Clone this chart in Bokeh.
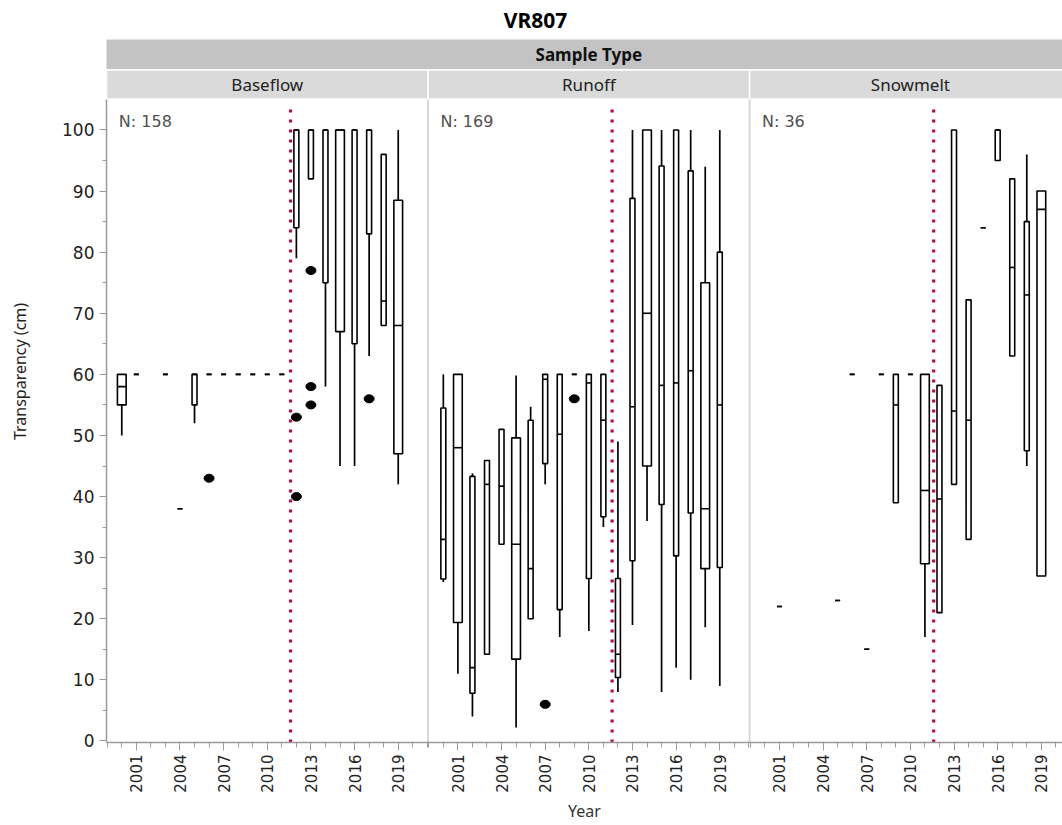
import math
from bokeh.plotting import figure
from bokeh.models import FixedTicker, ColumnDataSource, Range1d
from bokeh.core.properties import value
from bokeh.embed import file_html
from bokeh.resources import INLINE

# ---------------- data ----------------
TITLE = "VR807"
GROUP_TITLE = "Sample Type"
PANELS = ["Baseflow", "Runoff", "Snowmelt"]
N_COUNTS = [158, 169, 36]
Y_LABEL = "Transparency (cm)"
X_LABEL = "Year"
TICK_YEARS = [2001, 2004, 2007, 2010, 2013, 2016, 2019]
Y_TICKS = [0, 10, 20, 30, 40, 50, 60, 70, 80, 90, 100]
CHANGE_YEAR = 2011.6

baseflow_years = [2000, 2001, 2003, 2004, 2005, 2006, 2007, 2008, 2009, 2010, 2011,
                  2012, 2013, 2014, 2015, 2016, 2017, 2018, 2019]
baseflow_lo = [50, 60, 60, 38, 52, 60, 60, 60, 60, 60, 60, 79, 92, 58, 45, 45, 63, 68, 42]
baseflow_q1 = [55, 60, 60, 38, 55, 60, 60, 60, 60, 60, 60, 84, 92, 75, 67, 65, 83, 68, 47]
baseflow_med = [58, 60, 60, 38, 60, 60, 60, 60, 60, 60, 60, 100, 100, 100, 100, 100, 100, 72, 68]
baseflow_q3 = [60, 60, 60, 38, 60, 60, 60, 60, 60, 60, 60, 100, 100, 100, 100, 100, 100, 96, 88.5]
baseflow_hi = [60, 60, 60, 38, 60, 60, 60, 60, 60, 60, 60, 100, 100, 100, 100, 100, 100, 96, 100]
baseflow_out_years = [2006, 2012, 2012, 2013, 2013, 2013, 2017]
baseflow_out_vals = [43, 53, 40, 77, 58, 55, 56]

runoff_years = [2000, 2001, 2002, 2003, 2004, 2005, 2006, 2007, 2008, 2009, 2010, 2011,
                2012, 2013, 2014, 2015, 2016, 2017, 2018, 2019]
runoff_lo = [26, 11, 4, 14.2, 32.2, 2.2, 20, 42, 17, 60, 18, 35, 8, 19, 36, 8, 12, 10, 18.6, 9]
runoff_q1 = [26.5, 19.4, 7.8, 14.2, 32.2, 13.4, 20, 45.4, 21.5, 60, 26.6, 36.7, 10.4, 29.5, 45, 38.7, 30.3, 37.3, 28.2, 28.4]
runoff_med = [33, 48, 12, 42, 41.7, 32.2, 28.2, 59.2, 50.2, 60, 58.6, 52.5, 14.2, 54.7, 70, 58.2, 58.6, 60.6, 38, 55]
runoff_q3 = [54.5, 60, 43.3, 45.9, 51, 49.6, 52.5, 60, 60, 60, 60, 60, 26.6, 88.8, 100, 94.1, 100, 93.3, 75, 80]
runoff_hi = [60, 60, 43.8, 45.9, 51, 59.8, 54.7, 60, 60, 60, 60, 60, 49, 100, 100, 100, 100, 100, 94, 100]
runoff_out_years = [2007, 2009]
runoff_out_vals = [6, 56]

snowmelt_years = [2001, 2005, 2006, 2007, 2008, 2009, 2010, 2011, 2012, 2013, 2014,
                  2015, 2016, 2017, 2018, 2019]
snowmelt_lo = [22, 23, 60, 15, 60, 39, 60, 17, 21, 42, 33, 84, 95, 63, 45, 27]
snowmelt_q1 = [22, 23, 60, 15, 60, 39, 60, 29, 21, 42, 33, 84, 95, 63, 47.5, 27]
snowmelt_med = [22, 23, 60, 15, 60, 55, 60, 41, 39.6, 54, 52.5, 84, 100, 77.5, 73, 87]
snowmelt_q3 = [22, 23, 60, 15, 60, 60, 60, 60, 58.2, 100, 72.2, 84, 100, 92, 85, 90]
snowmelt_hi = [22, 23, 60, 15, 60, 60, 60, 60, 58.2, 100, 72.2, 84, 100, 92, 96, 90]
snowmelt_out_years = []
snowmelt_out_vals = []

# ---------------- layout / style ----------------
FIRST_YEAR = 1999
PANEL_SPAN = 22.1          # years per facet incl. gap
PX_X = 14.55               # px per year
PX_Y = 6.11                # px per unit of transparency
FRAME_LEFT = 106
FRAME_W = 956
FRAME_H = 742
X0 = -0.05
X1 = X0 + FRAME_W / PX_X
Y0 = -0.25
Y1 = Y0 + FRAME_H / PX_Y

WIDE = [{2000, 2015, 2019}, {2001, 2005, 2014, 2018}, {2011, 2019}]
HALF_WIDE = 0.3
HALF_NARROW = 0.17

FONT = "Noto Sans"
NUM_FONT = "DejaVu Sans"
RED = "#B3123C"
AXIS_GRAY = "#9A9A9A"


def vx(page_x):
    return X0 + (page_x - FRAME_LEFT) / PX_X


def vy(page_y):
    return Y1 - page_y / PX_Y


p = figure(width=1062, height=825, frame_width=FRAME_W, frame_height=FRAME_H,
           x_range=Range1d(X0, X1), y_range=Range1d(Y0, Y1),
           output_backend="svg", toolbar_location=None,
           min_border_left=FRAME_LEFT, min_border_right=0, min_border_top=0,
           min_border_bottom=825 - FRAME_H)
p.outline_line_color = None
p.grid.visible = False
p.background_fill_color = "white"
p.border_fill_color = "white"

# ---- header bands ----
p.quad(left=[vx(104)], right=[X1 + 1], bottom=[vy(68.5)], top=[vy(39)],
       fill_color="#C3C3C3", line_color=None)
p.text(x=[3 * PANEL_SPAN / 2 - 0.05], y=[vy(53.5)], text=[GROUP_TITLE],
       text_font=value(FONT), text_font_style="bold", text_font_size="17px",
       text_color="#111111", text_align="center", text_baseline="middle")
band_l = [k * PANEL_SPAN + X0 for k in range(3)]
band_r = [k * PANEL_SPAN + 22.05 for k in range(3)]
p.quad(left=band_l, right=band_r, bottom=[vy(98.5)] * 3, top=[vy(69.5)] * 3,
       fill_color="#DADADA", line_color="white", line_width=1.5)
p.text(x=[k * PANEL_SPAN + 11 for k in range(3)], y=[vy(84)] * 3, text=PANELS,
       text_font=value(FONT), text_font_size="17px", text_color="#222222",
       text_align="center", text_baseline="middle")
p.text(x=[vx(535)], y=[vy(19)], text=[TITLE],
       text_font=value(FONT), text_font_style="bold", text_font_size="21px",
       text_color="#000000", text_align="center", text_baseline="middle")

# ---- panel separators ----
sep_x = [k * PANEL_SPAN + 22.05 for k in range(2)]
p.segment(x0=sep_x, y0=[Y0] * 2, x1=sep_x, y1=[vy(99)] * 2,
          line_color="#D6D6D6", line_width=2)

panels = [
    (baseflow_years, baseflow_lo, baseflow_q1, baseflow_med, baseflow_q3, baseflow_hi,
     baseflow_out_years, baseflow_out_vals),
    (runoff_years, runoff_lo, runoff_q1, runoff_med, runoff_q3, runoff_hi,
     runoff_out_years, runoff_out_vals),
    (snowmelt_years, snowmelt_lo, snowmelt_q1, snowmelt_med, snowmelt_q3, snowmelt_hi,
     snowmelt_out_years, snowmelt_out_vals),
]

major_ticks, minor_ticks, overrides = [], [], {}
for k, (yrs, lo, q1, med, q3, hi, oy, ov) in enumerate(panels):
    off = k * PANEL_SPAN - FIRST_YEAR
    # red change line
    xr = CHANGE_YEAR + off
    p.segment(x0=[xr], y0=[Y0], x1=[xr], y1=[vy(104)], line_color=RED,
              line_width=3.2, line_dash="3 7", line_cap="butt")
    x = [yy + off for yy in yrs]
    half = [HALF_WIDE if yy in WIDE[k] else HALF_NARROW for yy in yrs]
    src = ColumnDataSource(dict(x=x, left=[a - h for a, h in zip(x, half)],
                                right=[a + h for a, h in zip(x, half)],
                                lo=lo, q1=q1, med=med, q3=q3, hi=hi))
    p.segment(x0="x", y0="q3", x1="x", y1="hi", source=src, line_color="black", line_width=1.7)
    p.segment(x0="x", y0="lo", x1="x", y1="q1", source=src, line_color="black", line_width=1.7)
    p.quad(left="left", right="right", bottom="q1", top="q3", source=src,
           fill_color="white", line_color="black", line_width=1.6)
    p.segment(x0="left", y0="med", x1="right", y1="med", source=src,
              line_color="black", line_width=1.6)
    if oy:
        p.ellipse(x=[yy + off for yy in oy], y=ov, width=10, height=8,
                  width_units="screen", height_units="screen",
                  fill_color="black", line_color="black")
    # N label
    p.text(x=[k * PANEL_SPAN + 0.8], y=[vy(121)], text=["N: %d" % N_COUNTS[k]],
           text_font=value(NUM_FONT), text_font_size="16px", text_color="#505050",
           text_align="left", text_baseline="middle")
    for yy in TICK_YEARS:
        t = yy + off
        major_ticks.append(t)
        overrides[t] = str(yy)
    for yy in range(FIRST_YEAR, 2022):
        t = yy + off
        if yy not in TICK_YEARS and X0 <= t <= X1:
            minor_ticks.append(t)

xa = p.xaxis[0]
xa.ticker = FixedTicker(ticks=major_ticks, minor_ticks=minor_ticks)
xa.major_label_overrides = overrides
xa.major_label_orientation = math.pi / 2
xa.major_label_text_font = NUM_FONT
xa.major_label_text_font_size = "15px"
xa.major_label_text_color = "#222222"
xa.major_label_standoff = 4
xa.axis_line_color = AXIS_GRAY
xa.axis_line_width = 1.5
xa.major_tick_line_color = AXIS_GRAY
xa.minor_tick_line_color = AXIS_GRAY
xa.major_tick_out = 8
xa.major_tick_in = 0
xa.minor_tick_out = 5
xa.minor_tick_in = 0
xa.axis_label = X_LABEL
xa.axis_label_text_font = FONT
xa.axis_label_text_font_style = "normal"
xa.axis_label_text_font_size = "16px"
xa.axis_label_text_color = "#333333"
xa.axis_label_standoff = 4

ya = p.yaxis[0]
ya.ticker = FixedTicker(ticks=Y_TICKS, minor_ticks=[v + 5 for v in Y_TICKS[:-1]])
ya.bounds = (Y0, vy(99))
ya.major_label_text_font = NUM_FONT
ya.major_label_text_font_size = "17px"
ya.major_label_text_color = "#222222"
ya.major_label_standoff = 5
ya.axis_line_color = AXIS_GRAY
ya.axis_line_width = 1.5
ya.major_tick_line_color = AXIS_GRAY
ya.minor_tick_line_color = AXIS_GRAY
ya.major_tick_out = 7
ya.major_tick_in = 0
ya.minor_tick_out = 4
ya.minor_tick_in = 0
ya.axis_label = Y_LABEL
ya.axis_label_text_font = FONT
ya.axis_label_text_font_style = "normal"
ya.axis_label_text_font_size = "16px"
ya.axis_label_text_color = "#222222"
ya.axis_label_standoff = 28

open("out.html", "w").write(file_html(p, INLINE))
